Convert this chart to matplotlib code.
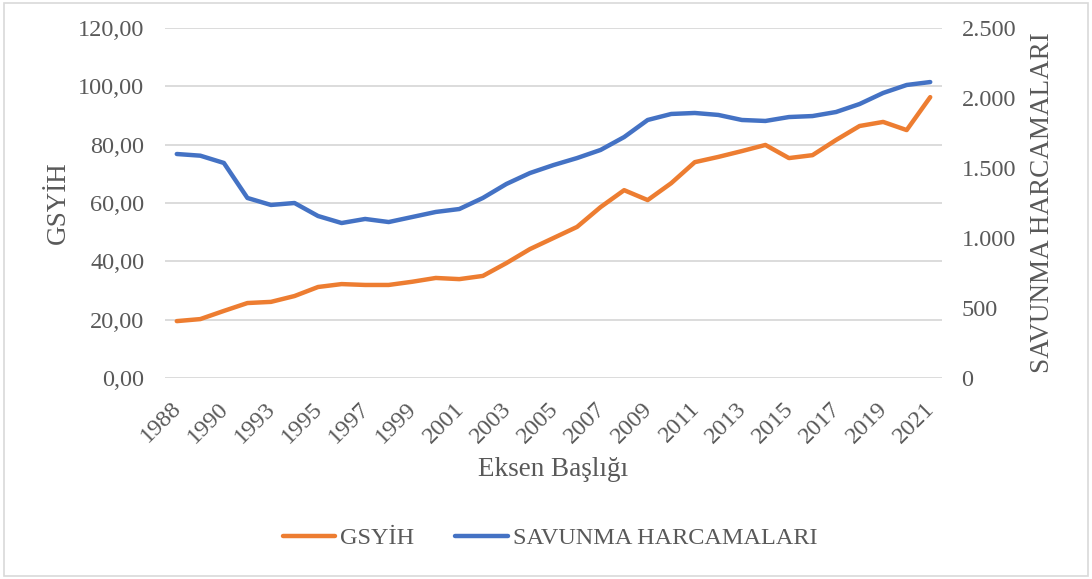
import numpy as np
import matplotlib
matplotlib.use("Agg")
from matplotlib import pyplot as plt
from matplotlib.patches import Rectangle
from matplotlib.transforms import ScaledTranslation

# data (one year between 1990 and 1993 is missing there)
years = [1988, 1989, 1990, 1992, 1993, 1994, 1995, 1996, 1997, 1998, 1999,
         2000, 2001, 2002, 2003, 2004, 2005, 2006, 2007, 2008, 2009, 2010,
         2011, 2012, 2013, 2014, 2015, 2016, 2017, 2018, 2019, 2020, 2021]
gsyih = [19.5, 20.2, 23.0, 25.7, 26.1, 28.1, 31.2, 32.2, 31.9, 31.9, 33.0,
         34.3, 33.9, 35.0, 39.4, 44.2, 48.0, 51.8, 58.6, 64.4, 61.0, 66.8,
         74.0, 75.8, 77.8, 79.9, 75.4, 76.4, 81.6, 86.4, 87.8, 85.0, 96.3]
savunma = [1600, 1588, 1536, 1286, 1236, 1250, 1157, 1107, 1136, 1114, 1150,
           1186, 1207, 1286, 1386, 1464, 1521, 1571, 1629, 1721, 1843, 1886,
           1893, 1879, 1843, 1836, 1864, 1871, 1900, 1957, 2036, 2093, 2114]

left_ticks = [0, 20, 40, 60, 80, 100, 120]
right_ticks = [0, 500, 1000, 1500, 2000, 2500]

ORANGE = "#ED7D31"
BLUE = "#4472C4"
TXT = "#595959"
GRID = "#D9D9D9"

plt.rcParams["font.family"] = ["Liberation Serif", "DejaVu Serif"]

W, H = 1092, 579
fig = plt.figure(figsize=(W / 100, H / 100), dpi=100)
fig.patches.append(Rectangle((4 / W, 3 / H), 1 - 8 / W, 1 - 6 / H, transform=fig.transFigure,
                             fill=False, edgecolor=GRID, lw=1.2))

ax = fig.add_axes([165 / W, (H - 378) / H, (942 - 165) / W, 350 / H])
ax2 = ax.twinx()

x = np.arange(len(years))
l1, = ax.plot(x, gsyih, color=ORANGE, lw=3.2, solid_capstyle="round", solid_joinstyle="round", zorder=3)
l2, = ax2.plot(x, savunma, color=BLUE, lw=3.2, solid_capstyle="round", solid_joinstyle="round", zorder=3)

ax.set_xlim(-0.5, len(years) - 0.5)
ax.set_ylim(0, 120)
ax2.set_ylim(0, 2500)
ax.set_yticks(left_ticks)
ax.set_yticklabels([f"{v:.2f}".replace(".", ",") for v in left_ticks])
ax2.set_yticks(right_ticks)
ax2.set_yticklabels([f"{v:,}".replace(",", ".") for v in right_ticks])

# slanted year labels (every other category), drawn as text so they can be nudged
ax.set_xticks(x[::2])
ax.set_xticklabels([])
off = ScaledTranslation(-6 / 100, -20 / 100, fig.dpi_scale_trans)
for i in range(0, len(years), 2):
    ax.text(i, 0, str(years[i]), transform=ax.get_xaxis_transform() + off,
            rotation=45, ha="right", va="top", rotation_mode="anchor",
            fontsize=17.5, color=TXT)

ax.grid(axis="y", color=GRID, lw=1.3)
ax.set_axisbelow(True)
for a in (ax, ax2):
    for s in a.spines.values():
        s.set_visible(False)
    a.tick_params(length=0, labelsize=17.5, colors=TXT)
ax.tick_params(axis="y", pad=15)
ax2.tick_params(axis="y", pad=14)

ax.set_ylabel("GSYİH", fontsize=19.5, color=TXT, labelpad=5)
ax2.set_ylabel("SAVUNMA HARCAMALARI", fontsize=19.5, color=TXT, labelpad=10)
ax.set_xlabel("Eksen Başlığı", fontsize=19.5, color=TXT)
ax.xaxis.set_label_coords(0.5, -(457 - 378) / 350)

fig.legend([l1, l2], ["GSYİH", "SAVUNMA HARCAMALARI"], loc="center",
           bbox_to_anchor=(0.5 + 4 / W, (H - 538) / H), ncol=2, frameon=False,
           fontsize=17.5, labelcolor=TXT, handlelength=2.15, handletextpad=0.2,
           columnspacing=1.7)

fig.savefig("out.png", dpi=100)
